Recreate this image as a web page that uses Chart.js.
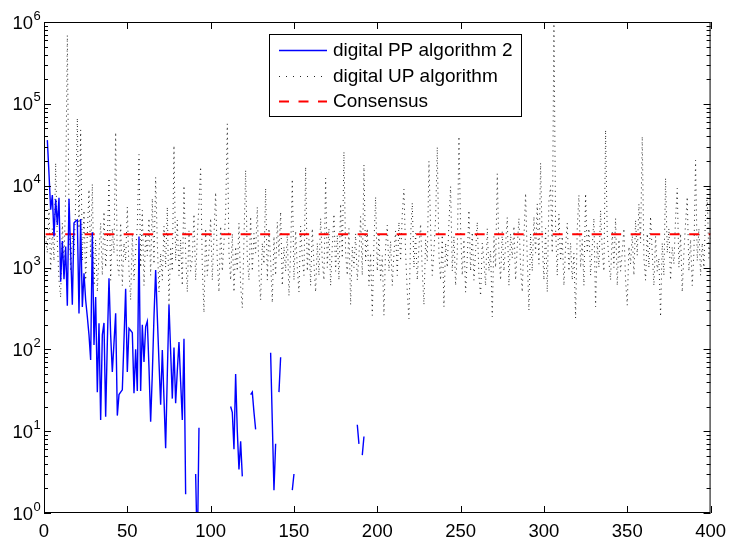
<!DOCTYPE html>
<html>
<head>
<meta charset="utf-8">
<script src="https://cdn.jsdelivr.net/npm/chart.js@4/dist/chart.umd.min.js"></script>
<style>
  html, body { margin: 0; padding: 0; background: #fff; }
  #wrap { width: 734px; height: 544px; position: relative; }
</style>
</head>
<body>
<div id="wrap"><canvas id="chart" width="734" height="544"></canvas></div>
<script>
// ── Data ────────────────────────────────────────────────────────────────────

// digital UP algorithm, one value per iteration 1..400
const upValues = [
  2400, 1500, 5200, 900, 3000, 1200, 19000, 2000, 700, 430, 3500, 1100, 8000, 690000, 4000, 900, 2500, 1400, 6000, 67000,
  3000, 48000, 1200, 5000, 700, 2600, 9000, 1300, 10500, 600, 2200, 500, 1500, 3500, 800, 4800, 1000, 2000, 12400, 700,
  3000, 1500, 45000, 1100, 800, 3500, 600, 2000, 1200, 5500, 900, 400, 2500, 700, 1600, 3200, 24000, 1000, 5000, 600,
  2600, 1400, 4000, 800, 7000, 1100, 12700, 2000, 500, 1500, 700, 3200, 1000, 5500, 350, 1800, 900, 31000, 1200, 3800,
  800, 2200, 600, 10000, 1500, 500, 2800, 900, 1300, 4500, 700, 2400, 6000, 17000, 1000, 280, 3000, 800, 1600, 4000,
  700, 2500, 8300, 1200, 500, 3200, 900, 2000, 4500, 57000, 1500, 700, 2600, 500, 1800, 900, 3500, 600, 320, 2200,
  15500, 1300, 700, 4200, 900, 2600, 1500, 5500, 800, 400, 2000, 1100, 9300, 700, 3000, 1200, 370, 2400, 800, 3600,
  1400, 4800, 600, 1800, 900, 2600, 450, 1500, 12000, 700, 2800, 1000, 500, 3200, 1300, 800, 17000, 900, 2200, 600,
  3000, 1100, 500, 2000, 800, 4000, 1200, 700, 12400, 1000, 3000, 600, 1800, 4500, 900, 2500, 700, 6000, 1300, 26000,
  1500, 800, 3000, 350, 1800, 1000, 2600, 700, 1400, 4200, 800, 18000, 1200, 3000, 600, 1500, 260, 2000, 7300, 900,
  2500, 700, 1400, 260, 1800, 3300, 900, 2100, 600, 1500, 2800, 800, 3600, 1200, 4500, 9100, 1500, 500, 235, 2400,
  6200, 1000, 2600, 700, 1800, 3400, 900, 350, 2200, 1200, 20000, 3000, 800, 1600, 4000, 29700, 1400, 700, 2500, 330,
  2000, 1000, 3500, 9800, 900, 2400, 600, 1500, 40000, 3000, 800, 2200, 500, 1300, 5000, 900, 2700, 700, 1600, 3600,
  800, 450, 2000, 1200, 600, 3000, 900, 1600, 250, 2400, 1000, 14000, 1500, 700, 2800, 900, 1900, 4100, 600, 2600,
  1300, 3200, 700, 1800, 4000, 1000, 500, 2300, 8100, 1300, 300, 2600, 900, 4200, 1500, 6000, 1100, 19000, 2000, 700,
  3000, 500, 6500, 10000, 1500, 1100000, 3000, 800, 4500, 1200, 2400, 600, 1800, 3500, 900, 2000, 700, 1500, 240, 3000,
  7700, 1000, 2200, 600, 8000, 1500, 3000, 800, 1800, 4000, 330, 2000, 1000, 5000, 1600, 900, 48000, 2500, 1200, 700,
  2800, 1000, 4000, 600, 2200, 900, 1500, 3000, 700, 345, 1800, 1100, 2600, 800, 3800, 1400, 6000, 2000, 40000, 1300,
  700, 2600, 1000, 4200, 1500, 600, 2400, 900, 1300, 250, 2000, 800, 12400, 1500, 3000, 700, 1800, 1100, 4000, 9300,
  1000, 2600, 500, 1500, 3500, 7300, 900, 2200, 600, 1500, 20500, 1200, 3000, 800, 2000, 1000, 4500, 7300, 1300, 2600,
];

// digital PP algorithm 2: visible runs (the rest is zero / off the log axis)
const ppRunStarts = [2, 91, 112, 124, 136, 141, 149, 188, 191];
const ppRuns = [
  [36000, 14000, 5100, 7700, 2400, 6800, 3300, 7100, 670, 2100, 720, 1800, 340, 6900, 1500, 350, 3500, 3700, 3800,
   275, 3900, 330, 850, 400, 250, 150, 74, 2700, 113, 435, 30, 208, 13.7, 150, 210, 15, 120, 740, 150,
   53, 120, 275, 15.5, 28, 30, 32, 130, 550, 53, 180, 170, 160, 29, 100, 31, 2400, 31, 200, 70,
   190, 220, 60, 13, 50, 250, 930, 250, 70, 21, 98, 25, 6.2, 50, 350, 95, 25, 105, 22, 55,
   123, 40, 13.7, 135, 1.7],
  [3, 0.3, 11],
  [20, 17, 6, 50, 10, 3.4, 7.5, 2.8],
  [28, 30, 17, 10.5],
  [91, 13, 1.9, 7],
  [30, 80],
  [1.9, 3],
  [12, 7],
  [5.1, 8.6],
];

const consensusValue = 2550;
const xRange = [0, 400];
const xTickStep = 50;
const yExponents = [0, 1, 2, 3, 4, 5, 6];
const seriesLabels = ['digital PP algorithm 2', 'digital UP algorithm', 'Consensus'];

// ── Build points ────────────────────────────────────────────────────────────

const upPoints = upValues.map((v, i) => ({ x: i + 1, y: v }));

const ppPoints = [];
ppRuns.forEach((run, r) => {
  const start = ppRunStarts[r];
  run.forEach((v, i) => ppPoints.push({ x: start + i, y: v }));
  ppPoints.push({ x: start + run.length, y: null });
});

const consensusPoints = [{ x: 1, y: consensusValue }, { x: xRange[1], y: consensusValue }];

// ── MATLAB-style frame: box, inward ticks, 10^n labels, legend ──────────────

const FONT = '"Liberation Sans", Arial, Helvetica, sans-serif';

const matlabFrame = {
  id: 'matlabFrame',
  afterDraw(chart) {
    const { ctx, chartArea: a, scales } = chart;
    const xs = scales.x, ys = scales.y;
    ctx.save();
    ctx.strokeStyle = '#000';
    ctx.lineWidth = 1;

    // box
    ctx.strokeRect(a.left + 0.5, a.top + 0.5, a.right - a.left - 1, a.bottom - a.top - 1);

    ctx.beginPath();
    // x ticks (top and bottom, inward)
    for (let v = xRange[0]; v <= xRange[1]; v += xTickStep) {
      const px = Math.round(xs.getPixelForValue(v)) + 0.5;
      ctx.moveTo(px, a.bottom); ctx.lineTo(px, a.bottom - 7);
      ctx.moveTo(px, a.top);    ctx.lineTo(px, a.top + 7);
    }
    // y ticks, major + minor (left and right, inward)
    yExponents.forEach(e => {
      const maxM = e === yExponents[yExponents.length - 1] ? 1 : 9;
      for (let m = 1; m <= maxM; m++) {
        const py = Math.round(ys.getPixelForValue(m * Math.pow(10, e))) + 0.5;
        const len = m === 1 ? 7 : 4;
        ctx.moveTo(a.left, py);  ctx.lineTo(a.left + len, py);
        ctx.moveTo(a.right, py); ctx.lineTo(a.right - len, py);
      }
    });
    ctx.stroke();

    // y labels as 10 with superscript exponent
    ctx.fillStyle = '#000';
    yExponents.forEach(e => {
      const py = ys.getPixelForValue(Math.pow(10, e));
      ctx.font = '18.5px ' + FONT;
      ctx.textAlign = 'right';
      ctx.textBaseline = 'alphabetic';
      ctx.fillText('10', 33, py + 6.5);
      ctx.font = '13px ' + FONT;
      ctx.textAlign = 'left';
      ctx.fillText(String(e), 33.5, py - 2.5);
    });

    // legend
    const lg = { left: 269.5, top: 34.5, width: 252, height: 82, rowY: [50, 75.5, 101], lineX: [279, 327], textX: 333 };
    ctx.fillStyle = '#fff';
    ctx.fillRect(lg.left, lg.top, lg.width, lg.height);
    ctx.strokeStyle = '#000';
    ctx.lineWidth = 1;
    ctx.strokeRect(lg.left, lg.top, lg.width, lg.height);
    chart.data.datasets.forEach((ds, i) => {
      const y = lg.rowY[i];
      ctx.save();
      ctx.strokeStyle = ds.borderColor;
      ctx.lineWidth = ds.borderWidth;
      ctx.setLineDash(ds.legendDash || ds.borderDash || []);
      ctx.beginPath();
      ctx.moveTo(lg.lineX[0], Math.round(y) + 0.5);
      ctx.lineTo(lg.lineX[1], Math.round(y) + 0.5);
      ctx.stroke();
      ctx.restore();
      ctx.fillStyle = '#000';
      ctx.font = '19px ' + FONT;
      ctx.textAlign = 'left';
      ctx.textBaseline = 'middle';
      ctx.fillText(ds.label, lg.textX, y + 1);
    });
    ctx.restore();
  },
};

// ── Chart ───────────────────────────────────────────────────────────────────

Chart.defaults.font.family = FONT;
Chart.defaults.color = '#000';

new Chart(document.getElementById('chart'), {
  type: 'line',
  data: {
    datasets: [
      {
        label: seriesLabels[0],
        data: ppPoints,
        borderColor: '#0000ff',
        borderWidth: 1.4,
        pointRadius: 0,
        spanGaps: false,
        tension: 0,
        clip: 0,
        order: 0,
      },
      {
        label: seriesLabels[1],
        data: upPoints,
        borderColor: '#222',
        borderWidth: 1,
        borderDash: [1, 4],
        legendDash: [1, 6],
        pointRadius: 0,
        tension: 0,
        clip: 0,
        order: 2,
      },
      {
        label: seriesLabels[2],
        data: consensusPoints,
        borderColor: '#ff0000',
        borderWidth: 1.8,
        borderDash: [10, 9.5],
        pointRadius: 0,
        tension: 0,
        clip: 0,
        order: 1,
      },
    ],
  },
  options: {
    responsive: false,
    animation: false,
    layout: { padding: { top: 22, right: 21, left: 0, bottom: 0 } },
    plugins: { legend: { display: false }, tooltip: { enabled: false } },
    scales: {
      x: {
        type: 'linear',
        min: xRange[0],
        max: xRange[1],
        grid: { display: false, drawTicks: false },
        border: { display: false },
        ticks: { stepSize: xTickStep, padding: 8, maxRotation: 0, font: { size: 18.5 }, color: '#000' },
        afterFit: s => { s.height = 31; },
      },
      y: {
        type: 'logarithmic',
        min: 1,
        max: 1e6,
        grid: { display: false, drawTicks: false },
        border: { display: false },
        ticks: { display: false },
        afterFit: s => { s.width = 44; },
      },
    },
  },
  plugins: [matlabFrame],
});
</script>
</body>
</html>
